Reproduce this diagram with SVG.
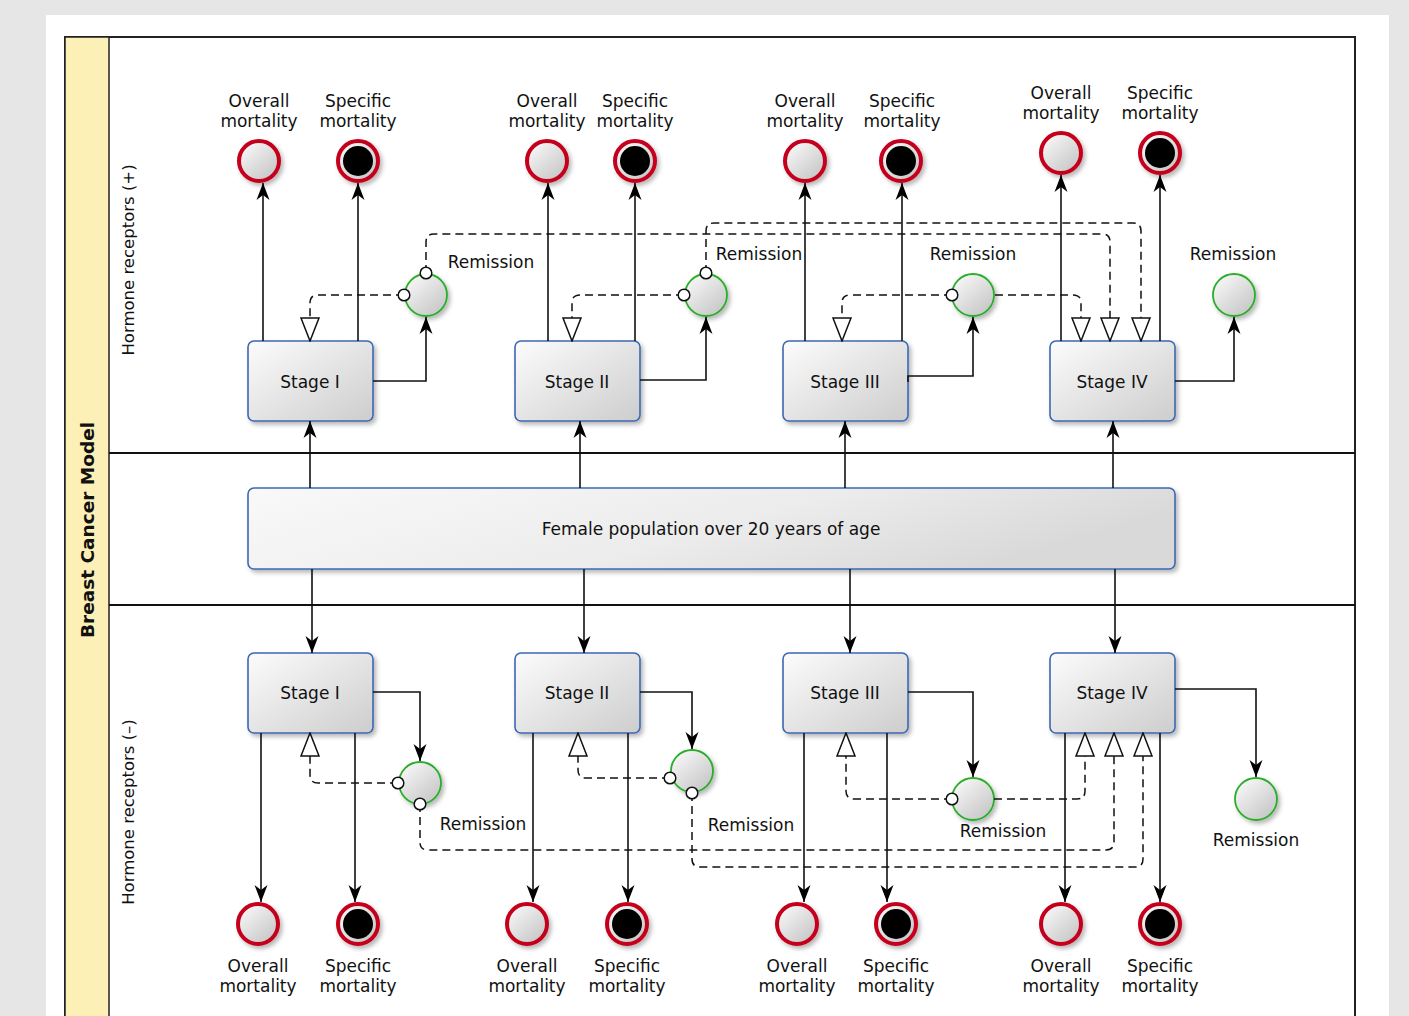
<svg xmlns="http://www.w3.org/2000/svg" width="1409" height="1016" viewBox="0 0 1409 1016">
<defs>
<style>
.lbl{font-family:"DejaVu Sans","Liberation Sans",sans-serif;font-size:17px;fill:#111;text-anchor:middle}
.lane{font-family:"DejaVu Sans","Liberation Sans",sans-serif;font-size:16.5px;fill:#111;text-anchor:middle}
.title{font-family:"DejaVu Sans","Liberation Sans",sans-serif;font-size:18.5px;font-weight:bold;fill:#111;text-anchor:middle}
.box{fill:url(#boxg);stroke:#3c68b4;stroke-width:1.6;filter:url(#sh)}
.end{fill:url(#cg);stroke:#c4001c;stroke-width:4;filter:url(#sh)}
.rem{fill:url(#cg);stroke:#2aae2a;stroke-width:1.8;filter:url(#sh)}
.inner{fill:#000}
.solid{fill:none;stroke:#111;stroke-width:1.6;marker-end:url(#arr)}
.dash{fill:none;stroke:#111;stroke-width:1.5;stroke-dasharray:8 5;marker-end:url(#tri)}
.ds{marker-start:url(#dot)}
.div{stroke:#111;stroke-width:1.8}
</style>
<linearGradient id="boxg" x1="0" y1="0" x2="1" y2="1">
<stop offset="0" stop-color="#fcfcfc"/><stop offset="1" stop-color="#cdcdcd"/>
</linearGradient>
<linearGradient id="midg" x1="0" y1="0" x2="1" y2="0.3">
<stop offset="0" stop-color="#f9f9f9"/><stop offset="0.6" stop-color="#ececec"/><stop offset="1" stop-color="#d9d9d9"/>
</linearGradient>
<linearGradient id="cg" x1="0.15" y1="0.1" x2="0.9" y2="0.95">
<stop offset="0" stop-color="#f6f6f6"/><stop offset="1" stop-color="#c4c4c4"/>
</linearGradient>
<filter id="sh" x="-20%" y="-20%" width="150%" height="150%">
<feDropShadow dx="2.5" dy="3" stdDeviation="2.2" flood-color="#000" flood-opacity="0.28"/>
</filter>
<marker id="arr" viewBox="0 0 17 14" refX="17" refY="7" markerWidth="17" markerHeight="14" markerUnits="userSpaceOnUse" orient="auto">
<path d="M0,0.5 L17,7 L0,13.5 L5,7 Z" fill="#000"/>
</marker>
<marker id="tri" viewBox="0 0 25 20" refX="24" refY="10" markerWidth="25" markerHeight="20" markerUnits="userSpaceOnUse" orient="auto">
<path d="M1,1 L24,10 L1,19 Z" fill="#fff" stroke="#111" stroke-width="1.5" stroke-dasharray="none"/>
</marker>
<marker id="dot" viewBox="0 0 16 16" refX="8" refY="8" markerWidth="16" markerHeight="16" markerUnits="userSpaceOnUse" orient="auto">
<circle cx="8" cy="8" r="5.8" fill="#fff" stroke="#111" stroke-width="1.5" stroke-dasharray="none"/>
</marker>
</defs>

<rect x="0" y="0" width="1409" height="1016" fill="#e6e6e6"/>
<rect x="46" y="15" width="1343" height="1010" fill="#fff"/>

<g id="pool">
<rect x="65" y="37" width="1290" height="1000" fill="#fff" stroke="#222" stroke-width="2"/>
<rect x="65" y="37" width="44" height="1000" fill="#fdf0b6" stroke="#222" stroke-width="1.5"/>
<text class="title" transform="translate(94,530) rotate(-90)">Breast Cancer Model</text>
<line class="div" x1="109" y1="453" x2="1355" y2="453"/>
<line class="div" x1="109" y1="605" x2="1355" y2="605"/>
<text class="lane" transform="translate(134,260) rotate(-90)">Hormone receptors (+)</text>
<text class="lane" transform="translate(134,812) rotate(-90)">Hormone receptors (–)</text>
</g>

<g id="population">
<rect x="248" y="488" width="927" height="81" rx="6" fill="url(#midg)" stroke="#3c68b4" stroke-width="1.6" filter="url(#sh)"/>
<text class="lbl" x="711" y="535">Female population over 20 years of age</text>
</g>

<!-- Top lane stages -->
<g id="p-stage1"><rect class="box" x="248" y="341" width="125" height="80" rx="6"/><text class="lbl" x="310" y="388">Stage I</text></g>
<g id="p-stage2"><rect class="box" x="515" y="341" width="125" height="80" rx="6"/><text class="lbl" x="577" y="388">Stage II</text></g>
<g id="p-stage3"><rect class="box" x="783" y="341" width="125" height="80" rx="6"/><text class="lbl" x="845" y="388">Stage III</text></g>
<g id="p-stage4"><rect class="box" x="1050" y="341" width="125" height="80" rx="6"/><text class="lbl" x="1112" y="388">Stage IV</text></g>

<!-- Bottom lane stages -->
<g id="n-stage1"><rect class="box" x="248" y="653" width="125" height="80" rx="6"/><text class="lbl" x="310" y="699">Stage I</text></g>
<g id="n-stage2"><rect class="box" x="515" y="653" width="125" height="80" rx="6"/><text class="lbl" x="577" y="699">Stage II</text></g>
<g id="n-stage3"><rect class="box" x="783" y="653" width="125" height="80" rx="6"/><text class="lbl" x="845" y="699">Stage III</text></g>
<g id="n-stage4"><rect class="box" x="1050" y="653" width="125" height="80" rx="6"/><text class="lbl" x="1112" y="699">Stage IV</text></g>

<!-- Top mortality events -->
<g id="p-om1"><circle class="end" cx="259" cy="161" r="20"/><text class="lbl" x="259" y="107">Overall</text><text class="lbl" x="259" y="127">mortality</text></g>
<g id="p-sm1"><circle class="end" cx="358" cy="161" r="20"/><circle class="inner" cx="358" cy="161" r="15"/><text class="lbl" x="358" y="107">Specific</text><text class="lbl" x="358" y="127">mortality</text></g>
<g id="p-om2"><circle class="end" cx="547" cy="161" r="20"/><text class="lbl" x="547" y="107">Overall</text><text class="lbl" x="547" y="127">mortality</text></g>
<g id="p-sm2"><circle class="end" cx="635" cy="161" r="20"/><circle class="inner" cx="635" cy="161" r="15"/><text class="lbl" x="635" y="107">Specific</text><text class="lbl" x="635" y="127">mortality</text></g>
<g id="p-om3"><circle class="end" cx="805" cy="161" r="20"/><text class="lbl" x="805" y="107">Overall</text><text class="lbl" x="805" y="127">mortality</text></g>
<g id="p-sm3"><circle class="end" cx="901" cy="161" r="20"/><circle class="inner" cx="901" cy="161" r="15"/><text class="lbl" x="902" y="107">Specific</text><text class="lbl" x="902" y="127">mortality</text></g>
<g id="p-om4"><circle class="end" cx="1061" cy="153" r="20"/><text class="lbl" x="1061" y="99">Overall</text><text class="lbl" x="1061" y="119">mortality</text></g>
<g id="p-sm4"><circle class="end" cx="1160" cy="153" r="20"/><circle class="inner" cx="1160" cy="153" r="15"/><text class="lbl" x="1160" y="99">Specific</text><text class="lbl" x="1160" y="119">mortality</text></g>

<!-- Top remission -->
<g id="p-rem1"><circle class="rem" cx="426" cy="295" r="21"/><text class="lbl" x="491" y="268">Remission</text></g>
<g id="p-rem2"><circle class="rem" cx="706" cy="295" r="21"/><text class="lbl" x="759" y="260">Remission</text></g>
<g id="p-rem3"><circle class="rem" cx="973" cy="295" r="21"/><text class="lbl" x="973" y="260">Remission</text></g>
<g id="p-rem4"><circle class="rem" cx="1234" cy="295" r="21"/><text class="lbl" x="1233" y="260">Remission</text></g>

<!-- Bottom remission -->
<g id="n-rem1"><circle class="rem" cx="420" cy="783" r="21"/><text class="lbl" x="483" y="830">Remission</text></g>
<g id="n-rem2"><circle class="rem" cx="692" cy="771" r="21"/><text class="lbl" x="751" y="831">Remission</text></g>
<g id="n-rem3"><circle class="rem" cx="973" cy="799" r="21"/><text class="lbl" x="1003" y="837">Remission</text></g>
<g id="n-rem4"><circle class="rem" cx="1256" cy="799" r="21"/><text class="lbl" x="1256" y="846">Remission</text></g>

<!-- Bottom mortality events -->
<g id="n-om1"><circle class="end" cx="258" cy="924" r="20"/><text class="lbl" x="258" y="972">Overall</text><text class="lbl" x="258" y="992">mortality</text></g>
<g id="n-sm1"><circle class="end" cx="358" cy="924" r="20"/><circle class="inner" cx="358" cy="924" r="15"/><text class="lbl" x="358" y="972">Specific</text><text class="lbl" x="358" y="992">mortality</text></g>
<g id="n-om2"><circle class="end" cx="527" cy="924" r="20"/><text class="lbl" x="527" y="972">Overall</text><text class="lbl" x="527" y="992">mortality</text></g>
<g id="n-sm2"><circle class="end" cx="627" cy="924" r="20"/><circle class="inner" cx="627" cy="924" r="15"/><text class="lbl" x="627" y="972">Specific</text><text class="lbl" x="627" y="992">mortality</text></g>
<g id="n-om3"><circle class="end" cx="797" cy="924" r="20"/><text class="lbl" x="797" y="972">Overall</text><text class="lbl" x="797" y="992">mortality</text></g>
<g id="n-sm3"><circle class="end" cx="896" cy="924" r="20"/><circle class="inner" cx="896" cy="924" r="15"/><text class="lbl" x="896" y="972">Specific</text><text class="lbl" x="896" y="992">mortality</text></g>
<g id="n-om4"><circle class="end" cx="1061" cy="924" r="20"/><text class="lbl" x="1061" y="972">Overall</text><text class="lbl" x="1061" y="992">mortality</text></g>
<g id="n-sm4"><circle class="end" cx="1160" cy="924" r="20"/><circle class="inner" cx="1160" cy="924" r="15"/><text class="lbl" x="1160" y="972">Specific</text><text class="lbl" x="1160" y="992">mortality</text></g>

<g id="connectors">
<!-- population to stages -->
<path class="solid" d="M310,488 V421"/>
<path class="solid" d="M580,488 V421"/>
<path class="solid" d="M845,488 V421"/>
<path class="solid" d="M1113,488 V421"/>
<path class="solid" d="M312,569 V653"/>
<path class="solid" d="M584,569 V653"/>
<path class="solid" d="M850,569 V653"/>
<path class="solid" d="M1115,569 V653"/>
<!-- top mortality -->
<path class="solid" d="M263,341 V183"/>
<path class="solid" d="M358,341 V183"/>
<path class="solid" d="M548,341 V183"/>
<path class="solid" d="M635,341 V183"/>
<path class="solid" d="M805,341 V183"/>
<path class="solid" d="M902,341 V183"/>
<path class="solid" d="M1061,341 V175"/>
<path class="solid" d="M1160,341 V175"/>
<!-- top stage to remission -->
<path class="solid" d="M373,381 H426 V317"/>
<path class="solid" d="M640,380 H706 V317"/>
<path class="solid" d="M908,382 V376 H973 V317"/>
<path class="solid" d="M1175,381 H1234 V317"/>
<!-- bottom stage to remission -->
<path class="solid" d="M373,692 H420 V761"/>
<path class="solid" d="M640,692 H692 V749"/>
<path class="solid" d="M908,692 H973 V777"/>
<path class="solid" d="M1175,689 H1256 V777"/>
<!-- bottom mortality -->
<path class="solid" d="M261,733 V902"/>
<path class="solid" d="M355,733 V902"/>
<path class="solid" d="M533,733 V902"/>
<path class="solid" d="M628,733 V902"/>
<path class="solid" d="M804,733 V902"/>
<path class="solid" d="M887,733 V902"/>
<path class="solid" d="M1065,733 V902"/>
<path class="solid" d="M1160,733 V902"/>
<!-- top dashed remission returns -->
<path class="dash ds" d="M404,295 H318 Q310,295 310,303 V341"/>
<path class="dash ds" d="M426,273 V242 Q426,234 434,234 H1102 Q1110,234 1110,242 V341"/>
<path class="dash ds" d="M684,295 H580 Q572,295 572,303 V341"/>
<path class="dash ds" d="M706,273 V231 Q706,223 714,223 H1133 Q1141,223 1141,231 V341"/>
<path class="dash ds" d="M952,295 H850 Q842,295 842,303 V341"/>
<path class="dash" d="M995,295 H1073 Q1081,295 1081,303 V341"/>
<!-- bottom dashed remission returns -->
<path class="dash ds" d="M398,783 H318 Q310,783 310,775 V733"/>
<path class="dash ds" d="M420,804 V842 Q420,850 428,850 H1106 Q1114,850 1114,842 V733"/>
<path class="dash ds" d="M670,778 H586 Q578,778 578,770 V733"/>
<path class="dash ds" d="M692,793 V859 Q692,867 700,867 H1135 Q1143,867 1143,859 V733"/>
<path class="dash ds" d="M952,799 H854 Q846,799 846,791 V733"/>
<path class="dash" d="M994,799 H1077 Q1085,799 1085,791 V733"/>
</g>
</svg>
